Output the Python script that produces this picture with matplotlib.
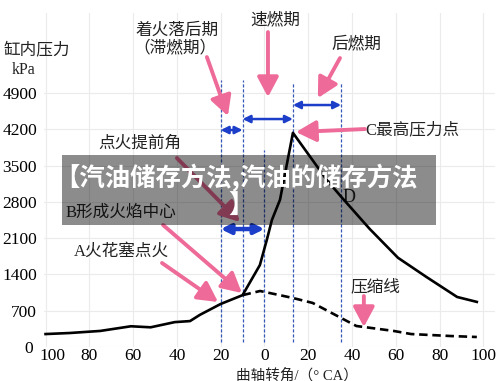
import matplotlib
matplotlib.use("Agg")
import matplotlib.pyplot as plt
from matplotlib.patches import Rectangle, FancyArrowPatch
from matplotlib.transforms import ScaledTranslation

CJK = ['Noto Sans CJK SC', 'DejaVu Sans']
SERIF = ['Liberation Serif', 'Noto Sans CJK SC']
plt.rcParams['font.family'] = CJK

# crank angle (deg, negative = before TDC) and cylinder pressure (kPa)
fire_angle = [-100, -89, -75, -61, -52, -41, -34, -29.5, -20, -10, -6.6, -2.1,
              1.1, 3.4, 7.1, 13, 28.5, 35.4, 48, 61, 74, 88, 97]
fire_kpa = [250, 270, 310, 400, 380, 480, 500, 620, 830, 1000, 1250, 1580,
            2070, 2450, 2840, 4130, 3220, 2880, 2280, 1720, 1350, 965, 870]

comp_angle = [-10, -2, 7, 13, 22, 35, 42, 59, 67, 85, 97]
comp_kpa = [1000, 1080, 1000, 945, 850, 560, 405, 310, 250, 212, 193]

# phase boundaries: ignition A, flame centre B, TDC, peak C, end of rapid burn
phase_marks = [-20, -10, 0, 13, 35]
phase_tops = [5150, 5150, 3800, 5100, 5100]

x_ticks = [-100, -80, -60, -40, -20, 0, 20, 40, 60, 80, 100]
x_labels = ['100', '80', '60', '40', '20', '0', '20', '40', '60', '80', '100']
y_ticks = [0, 700, 1400, 2100, 2800, 3500, 4200, 4900]

pink = '#ee6a98'
blue = '#1c3ec8'

fig = plt.figure(figsize=(5, 3.81), dpi=100)
ax = fig.add_axes([0.088, 0.0892, 0.902, 0.8766])
ax.set_xlim(-100.7, 105.3)
ax.set_ylim(0, 6440)

for s in ax.spines.values():
    s.set_visible(False)
ax.set_xticks(x_ticks)
ax.set_xticklabels(x_labels, fontfamily=SERIF, fontsize=12.5)
ax.set_yticks(y_ticks)
ax.set_yticklabels([str(v) for v in y_ticks], fontfamily=SERIF, fontsize=12.5)
ax.tick_params(axis='x', length=0, pad=0.5)
ax.tick_params(axis='y', length=0, pad=5)
ax.grid(True, color='#ebebeb', lw=0.8)
ax.set_axisbelow(True)

# nudge the first x label right so it clears the "0" of the y axis
first = ax.get_xticklabels()[0]
first.set_transform(first.get_transform() + ScaledTranslation(5 / 72, 0, fig.dpi_scale_trans))
ylab0 = ax.get_yticklabels()[0]
ylab0.set_transform(ylab0.get_transform() + ScaledTranslation(-3 / 72, 0, fig.dpi_scale_trans))

# curves
ax.plot(fire_angle, fire_kpa, color='black', lw=1.9, zorder=4)
ax.plot(comp_angle, comp_kpa, color='black', lw=1.9, ls=(0, (3.2, 1.8)), zorder=4)

# dashed phase lines
for xm, top in zip(phase_marks, phase_tops):
    ax.plot([xm, xm], [90, top], color='#3358b8', lw=0.9, ls=(0, (2.5, 1.5)), zorder=3)


def blue_arrow(x0, x1, y, lw=1.8, ms=11):
    ax.add_patch(FancyArrowPatch((x0, y), (x1, y), arrowstyle='<|-|>', lw=lw,
                                 color=blue, mutation_scale=ms, shrinkA=0,
                                 shrinkB=0, zorder=5))


blue_arrow(phase_marks[0], phase_marks[1], 4184)
blue_arrow(phase_marks[1], phase_marks[3], 4396)
blue_arrow(phase_marks[3], phase_marks[4], 4666)
blue_arrow(phase_marks[0], phase_marks[2], 2275, lw=3.2, ms=14)


def pink_arrow(tail, tip):
    ax.annotate('', xy=tip, xytext=tail, annotation_clip=False,
                arrowprops=dict(arrowstyle='-|>,head_length=0.6,head_width=0.32',
                                lw=2.8, color=pink, mutation_scale=20,
                                shrinkA=0, shrinkB=0), zorder=6)


pink_arrow((-26.3, 5591), (-16.7, 4454))
pink_arrow((1.6, 6073), (1.6, 4820))
pink_arrow((34.5, 5572), (24.4, 4801))
pink_arrow((45.9, 4203), (14.4, 4145))
pink_arrow((-40, 3644), (-11.2, 2410))
pink_arrow((-46.3, 2352), (-10.3, 1041))
pink_arrow((-46.8, 1620), (-21.2, 868))
pink_arrow((45.4, 983), (45.4, 386))

# labels
kw = dict(ha='center', va='center', fontsize=12, color='#222222')
ax.text(-103.9, 5726, '缸内压力', **kw)
ax.text(-109.8, 5340, 'kPa', ha='center', va='center', fontsize=11.5,
        fontfamily=SERIF, color='#222222')
ax.text(-40, 6112, '着火落后期', **kw)
ax.text(-40.9, 5765, '（滞燃期）', **kw)
ax.text(4.8, 6305, '速燃期', **kw)
ax.text(41.8, 5842, '后燃期', **kw)
ax.text(67.8, 4184, 'C最高压力点', fontfamily=SERIF, **kw)
ax.text(-56.8, 3933, '点火提前角', **kw)
ax.text(-65.5, 2584, 'B形成火焰中心', fontfamily=SERIF, **kw)
ax.text(-65.5, 1832, 'A火花塞点火', fontfamily=SERIF, **kw)
ax.text(38.6, 2892, 'D', ha='center', va='center', fontsize=13,
        fontfamily=SERIF, color='#222222')
ax.text(50.5, 1157, '压缩线', **kw)
ax.text(14.8, -540, '曲轴转角/（° CA）', ha='center', va='center', fontsize=10.5,
        fontfamily=SERIF, color='#222222')

# grey title banner over the chart
fig.patches.append(Rectangle((0.124, 0.409), 0.748, 0.184, transform=fig.transFigure,
                             facecolor='black', alpha=0.45, edgecolor='none', zorder=10))
fig.text(0.472, 0.533, '【汽油储存方法,汽油的储存方法', ha='center', va='center',
         fontsize=18.3, fontweight='bold', color='white', zorder=11)
fig.text(0.482, 0.4606, '】', ha='center', va='center',
         fontsize=18.3, fontweight='bold', color='white', zorder=11)

fig.savefig('out.png', dpi=100)
